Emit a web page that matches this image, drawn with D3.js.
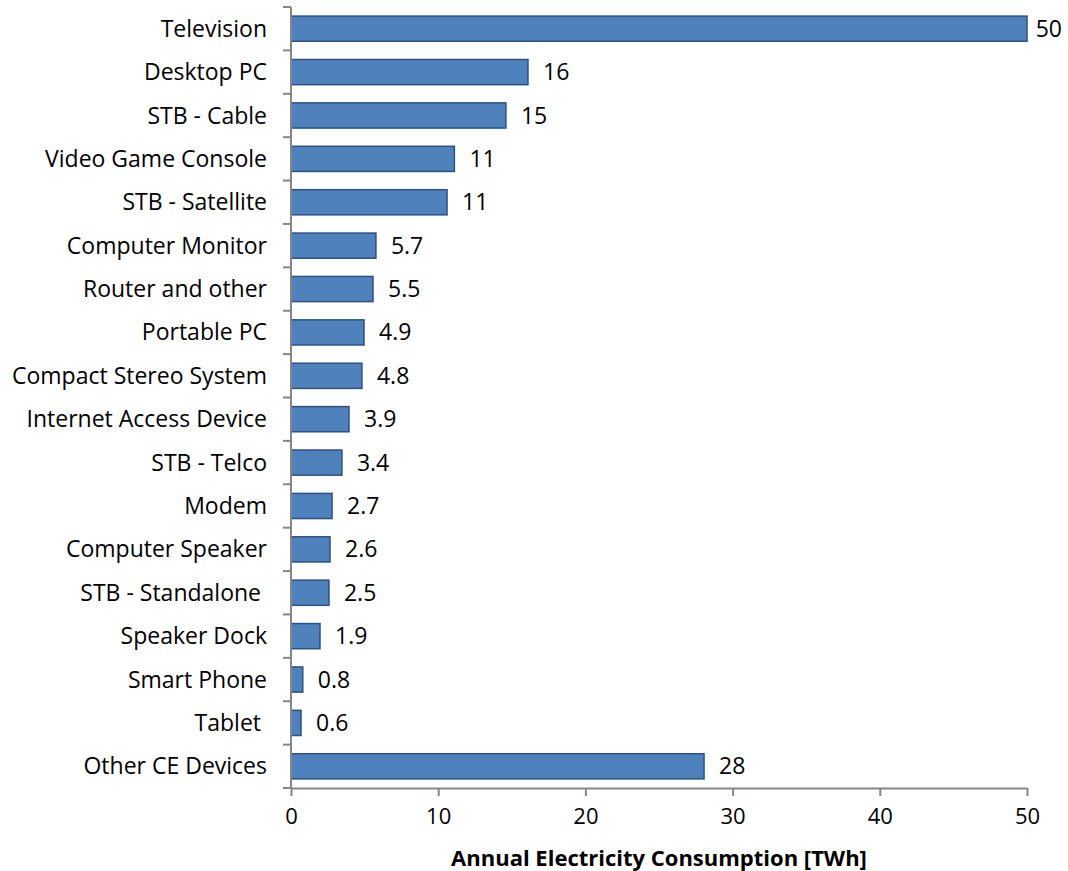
<!DOCTYPE html>
<html>
<head>
<meta charset="utf-8">
<script src="https://cdn.jsdelivr.net/npm/d3@7"></script>
<style>
  body { margin: 0; background: #fff; }
  svg text { font-family: "Open Sans", sans-serif; white-space: pre; }
</style>
</head>
<body>
<div id="chart"></div>
<script>
// categories top to bottom (trailing spaces kept as in source)
const categories = [
  "Television", "Desktop PC", "STB - Cable", "Video Game Console", "STB - Satellite",
  "Computer Monitor", "Router and other", "Portable PC", "Compact Stereo System",
  "Internet Access Device", "STB - Telco", "Modem", "Computer Speaker",
  "STB - Standalone ", "Speaker Dock", "Smart Phone", "Tablet ", "Other CE Devices"
];
// bar lengths (TWh)
const values = [50, 16.1, 14.6, 11.1, 10.6, 5.77, 5.57, 4.96, 4.82, 3.94, 3.46, 2.79, 2.65, 2.58, 1.97, 0.8, 0.68, 28.06];
// printed data labels
const valueLabels = ["50", "16", "15", "11", "11", "5.7", "5.5", "4.9", "4.8", "3.9", "3.4", "2.7", "2.6", "2.5", "1.9", "0.8", "0.6", "28"];
const xTicks = [0, 10, 20, 30, 40, 50];
const xTitle = "Annual Electricity Consumption [TWh]";

const width = 1068, height = 871;
const plotLeft = 291, plotRight = 1027, plotTop = 7, plotBottom = 788;
const axisColor = "#868686";
const fontSize = 23;

const svg = d3.select("#chart").append("svg")
  .attr("width", width).attr("height", height);

const x = d3.scaleLinear().domain([0, 50]).range([plotLeft, plotRight]);
const y = d3.scaleBand().domain(categories).range([plotTop, plotBottom])
  .paddingInner(0.42).paddingOuter(0.21);

// bars
svg.append("g").selectAll("rect")
  .data(categories)
  .join("rect")
  .attr("x", x(0))
  .attr("y", d => y(d))
  .attr("width", (d, i) => x(values[i]) - x(0))
  .attr("height", y.bandwidth())
  .attr("fill", "#4f81bd")
  .attr("stroke", "#2c5282")
  .attr("stroke-width", 1.5);

// data labels, pulled in if they would run off the right edge
svg.append("g").selectAll("text")
  .data(categories)
  .join("text")
  .attr("x", (d, i) => x(values[i]) + 15)
  .attr("y", d => y(d) + y.bandwidth() / 2)
  .attr("dy", "0.35em")
  .attr("font-size", fontSize)
  .attr("fill", "#000")
  .text((d, i) => valueLabels[i])
  .each(function () {
    const w = this.getComputedTextLength();
    const x0 = +this.getAttribute("x");
    if (x0 + w > width - 6) this.setAttribute("x", width - 6 - w);
  });

// y axis: line with ticks between categories
const yAxis = svg.append("g");
yAxis.append("line")
  .attr("x1", plotLeft).attr("x2", plotLeft).attr("y1", plotTop).attr("y2", plotBottom)
  .attr("stroke", axisColor).attr("stroke-width", 2);
const step = y.step();
yAxis.selectAll("line.tick")
  .data(d3.range(categories.length + 1))
  .join("line")
  .attr("class", "tick")
  .attr("x1", plotLeft - 8).attr("x2", plotLeft)
  .attr("y1", i => plotTop + i * step).attr("y2", i => plotTop + i * step)
  .attr("stroke", axisColor).attr("stroke-width", 2);
yAxis.selectAll("text")
  .data(categories)
  .join("text")
  .attr("x", plotLeft - 24)
  .attr("y", d => y(d) + y.bandwidth() / 2)
  .attr("dy", "0.35em")
  .attr("text-anchor", "end")
  .attr("font-size", fontSize)
  .attr("fill", "#000")
  .text(d => d);

// x axis
const xAxis = svg.append("g")
  .attr("transform", `translate(0,${plotBottom})`)
  .call(d3.axisBottom(x).tickValues(xTicks).tickSize(8).tickPadding(12).tickSizeOuter(0));
xAxis.select(".domain").attr("stroke", axisColor).attr("stroke-width", 2);
xAxis.selectAll(".tick line").attr("stroke", axisColor).attr("stroke-width", 2);
xAxis.selectAll(".tick text")
  .attr("font-size", 22)
  .attr("fill", "#000")
  .style("font-family", "'Open Sans', sans-serif");

svg.append("text")
  .attr("x", (plotLeft + plotRight) / 2)
  .attr("y", 866)
  .attr("text-anchor", "middle")
  .attr("font-size", 22)
  .attr("font-weight", "bold")
  .attr("fill", "#000")
  .text(xTitle);
</script>
</body>
</html>
